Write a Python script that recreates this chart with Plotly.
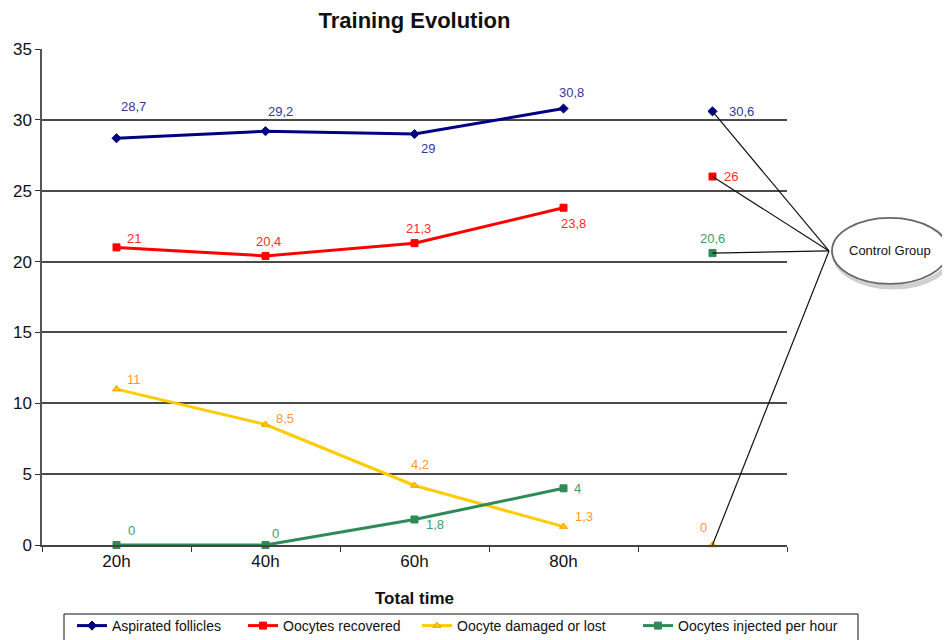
import plotly.graph_objects as go

# ---------------- data ----------------
categories = ["20h", "40h", "60h", "80h"]
control_category = "Control Group"

aspirated = [28.7, 29.2, 29.0, 30.8]
recovered = [21.0, 20.4, 21.3, 23.8]
damaged = [11.0, 8.5, 4.2, 1.3]
injected = [0.0, 0.0, 1.8, 4.0]

control_aspirated = 30.6
control_recovered = 26.0
control_damaged = 0.0
control_injected = 20.6

series_names = ["Aspirated follicles", "Oocytes recovered",
                "Oocyte damaged or lost", "Oocytes injected per hour"]

# ---------------- styles ----------------
FONT = "Liberation Sans, Arial, sans-serif"
line_colors = ["#000080", "#ff0000", "#ffcc00", "#2e8b57"]
label_colors = ["#35359a", "#ff2a2a", "#ff9933", "#3d9c6c"]
symbols = ["diamond", "square", "triangle-up", "square"]
marker_line = ["#000080", "#ff0000", "#ff9900", "#2e8b57"]
# label offsets (xshift, yshift) in px for the 4 time points + control point
label_shifts = [
    [(17, 32), (15, 20), (13, -14), (8, 16), (29, 0)],
    [(17, 9), (3, 14), (4, 15), (10, -16), (18, 0)],
    [(17, 10), (19, 6), (5, 21), (20, 10), (-9, 18)],
    [(15, 15), (10, 12), (20, -5), (14, 0), (0, 15)],
]
# screen x of each legend entry's line start
legend_line_x = [78, 249, 423, 644]

values = [aspirated, recovered, damaged, injected]
controls = [control_aspirated, control_recovered, control_damaged, control_injected]
all_cats = categories + [control_category]


def fmt(v):
    return f"{v:g}".replace(".", ",")


# page body adds an 8px offset; positions below are in screen pixels
PLOT_W = 745.0
PLOT_H = 496.0
L_SCREEN = 42.0
B_SCREEN = 545.0


def px_x(p):
    return (p - L_SCREEN) / PLOT_W


def px_y(p):
    return (B_SCREEN - p) / PLOT_H


legend_ids = ["legend", "legend2", "legend3", "legend4"]

fig = go.Figure()
annotations = []
for i, name in enumerate(series_names):
    lg = legend_ids[i]
    fig.add_trace(go.Scatter(
        x=categories, y=values[i], name=name, mode="lines+markers",
        line=dict(color=line_colors[i], width=3),
        marker=dict(symbol=symbols[i], size=7, color=line_colors[i],
                    line=dict(color=marker_line[i], width=1)),
        cliponaxis=False, legendgroup=name, legend=lg,
    ))
    fig.add_trace(go.Scatter(
        x=[control_category], y=[controls[i]], name=name, mode="markers",
        marker=dict(symbol=symbols[i], size=7, color=line_colors[i],
                    line=dict(color=marker_line[i], width=1)),
        cliponaxis=False, legendgroup=name, showlegend=False, legend=lg,
    ))
    ys = values[i] + [controls[i]]
    for j, (c, v) in enumerate(zip(all_cats, ys)):
        dx, dy = label_shifts[i][j]
        annotations.append(dict(
            x=c, y=v, xref="x", yref="y", text=fmt(v), showarrow=False,
            xshift=dx, yshift=dy,
            font=dict(family=FONT, size=13, color=label_colors[i]),
        ))

# ---------------- control group callout ----------------
n_cats = len(all_cats)
ctrl_px = (all_cats.index(control_category) + 0.5) / n_cats
ell_x0, ell_x1 = px_x(832), px_x(948)
ell_y0, ell_y1 = 18.42, 23.08
ell_yc = (ell_y0 + ell_y1) / 2
shapes = []
for v in controls:
    shapes.append(dict(type="line", xref="paper", yref="y",
                       x0=ctrl_px, y0=v, x1=ell_x0 - 0.004, y1=ell_yc,
                       line=dict(color="#111111", width=1.2)))
# shadow
shapes.append(dict(type="circle", xref="paper", yref="y",
                   x0=ell_x0 + 0.004, x1=ell_x1 + 0.004,
                   y0=ell_y0 - 0.22, y1=ell_y1 - 0.22,
                   line=dict(color="#cfcfcf", width=5), fillcolor="rgba(0,0,0,0)"))
shapes.append(dict(type="circle", xref="paper", yref="y",
                   x0=ell_x0, x1=ell_x1, y0=ell_y0, y1=ell_y1,
                   line=dict(color="#666666", width=1.8), fillcolor="white"))
annotations.append(dict(x=(ell_x0 + ell_x1) / 2, y=ell_yc, xref="paper", yref="y",
                        xanchor="center", yanchor="middle",
                        text=control_category, showarrow=False,
                        font=dict(family=FONT, size=13, color="#111111")))

# legend frame
shapes.append(dict(type="rect", xref="paper", yref="paper",
                   x0=px_x(64), x1=px_x(858), y0=px_y(614), y1=px_y(700),
                   line=dict(color="#111111", width=1), fillcolor="rgba(0,0,0,0)"))

legend_layouts = {}
for lid, lx in zip(legend_ids, legend_line_x):
    legend_layouts[lid] = dict(
        orientation="h", x=px_x(lx - 6), xanchor="left", y=px_y(610), yanchor="top",
        bgcolor="rgba(0,0,0,0)", itemwidth=30,
        font=dict(family=FONT, size=14, color="#111111"))

fig.update_layout(
    width=950, height=640,
    margin=dict(l=34, r=171, t=41, b=103, autoexpand=False),
    paper_bgcolor="white", plot_bgcolor="white",
    font=dict(family=FONT, size=13, color="#111111"),
    title=dict(text="<b>Training Evolution</b>", x=0.5, xref="paper",
               y=1 - 12 / 640, yanchor="middle", yref="container",
               font=dict(family=FONT, size=22, color="#111111")),
    xaxis=dict(type="category", categoryorder="array", categoryarray=all_cats,
               range=[-0.5, len(all_cats) - 0.5], automargin=False,
               tickmode="array", tickvals=all_cats, ticktext=categories + [""],
               tickson="boundaries", ticks="outside", ticklen=5, tickcolor="#333333",
               showline=True, linecolor="#444444", linewidth=1.5, showgrid=False,
               tickfont=dict(family=FONT, size=17, color="#111111"),
               title=dict(text="<b>Total time</b>", standoff=22,
                          font=dict(family=FONT, size=17, color="#111111"))),
    yaxis=dict(range=[0, 35], tick0=0, dtick=5, showgrid=True, automargin=False,
               gridcolor="#4a4a4a", gridwidth=1.5, zeroline=False,
               ticks="outside", ticklen=5, tickcolor="#333333",
               showline=True, linecolor="#555555", linewidth=1.5,
               tickfont=dict(family=FONT, size=17, color="#111111")),
    shapes=shapes,
    annotations=annotations,
    showlegend=True,
    **legend_layouts,
)

fig.write_html("out.html")
